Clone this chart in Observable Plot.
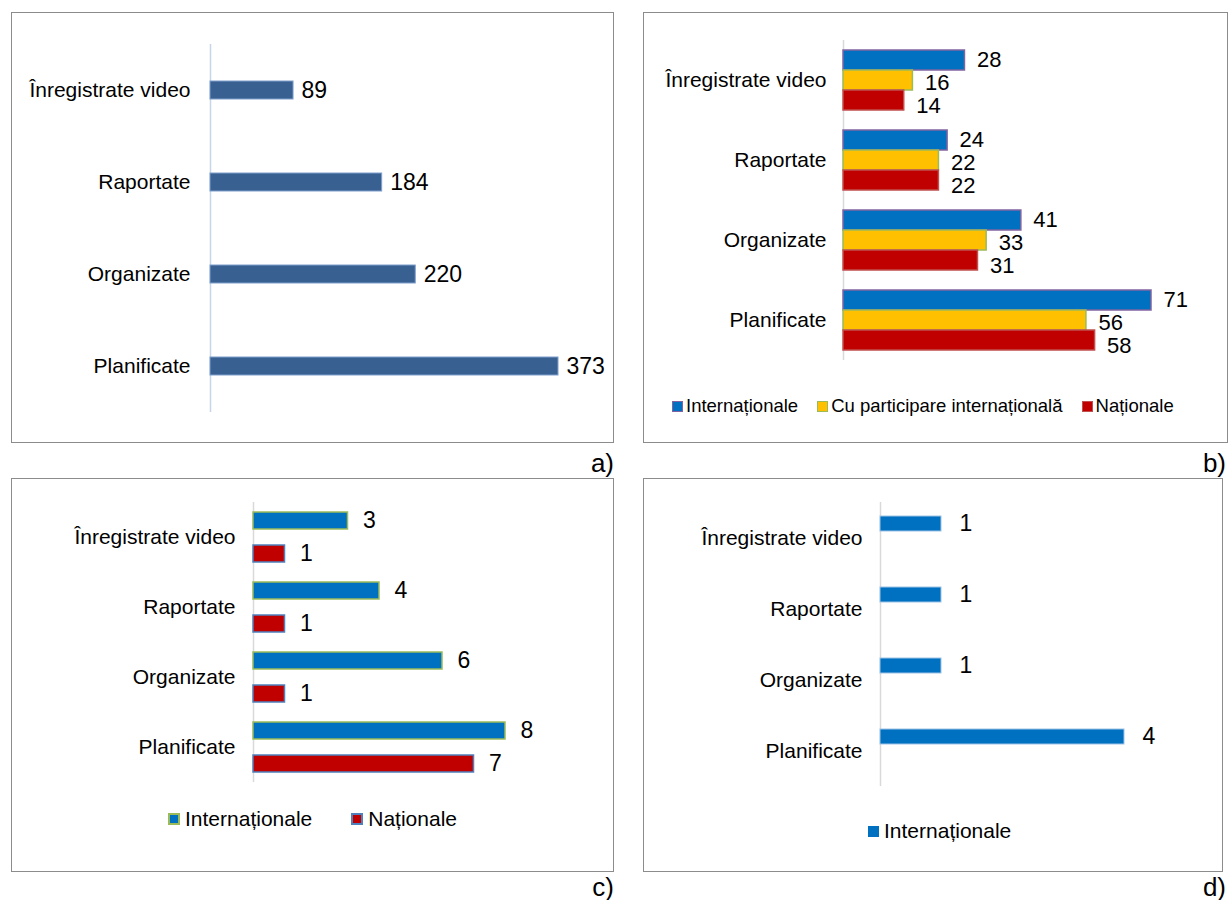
<!DOCTYPE html>
<html>
<head>
<meta charset="utf-8">
<script src="https://cdn.jsdelivr.net/npm/d3@7"></script>
<script src="https://cdn.jsdelivr.net/npm/@observablehq/plot@0.6"></script>
<style>
  html, body { margin: 0; padding: 0; background: #fff; }
  #root { position: relative; width: 1229px; height: 900px; font-family: "Liberation Sans", Arial, sans-serif; color: #000; }
  .box { position: absolute; box-sizing: border-box; border: 1.5px solid #8c8c8c; }
  .plot { position: absolute; }
  .plot svg { overflow: visible; }
  .tag { position: absolute; font-size: 26px; text-align: right; line-height: 1; }
  .legend { position: absolute; display: flex; align-items: center; white-space: nowrap; }
  .legend .item { display: flex; align-items: center; }
  .legend .sw { box-sizing: border-box; display: inline-block; }
</style>
</head>
<body>
<div id="root"></div>
<script>
// ---------- data ----------
const categories = ["Înregistrate video", "Raportate", "Organizate", "Planificate"];

// a) total
const seriesA = ["Total"];
const valuesA = [89, 184, 220, 373];

// b)
const seriesB = ["Internaționale", "Cu participare internațională", "Naționale"];
const valuesB_international = [28, 24, 41, 71];
const valuesB_participation = [16, 22, 33, 56];
const valuesB_national = [14, 22, 31, 58];

// c)
const seriesC = ["Internaționale", "Naționale"];
const valuesC_international = [3, 4, 6, 8];
const valuesC_national = [1, 1, 1, 7];

// d)
const seriesD = ["Internaționale"];
const valuesD_international = [1, 1, 1, 4];

const panelLabels = ["a)", "b)", "c)", "d)"];

// ---------- helpers ----------
const FONT = '"Liberation Sans", Arial, sans-serif';
const root = document.getElementById("root");

function toRows(series, valueLists) {
  const rows = [];
  categories.forEach((c, i) => {
    series.forEach((s, j) => rows.push({category: c, series: s, value: valueLists[j][i]}));
  });
  return rows;
}

function el(tag, cls, style, text) {
  const e = document.createElement(tag);
  if (cls) e.className = cls;
  Object.assign(e.style, style || {});
  if (text != null) e.textContent = text;
  return e;
}

function panel(cfg) {
  const {rows, series, yDomain, fills, strokes, strokeWidth, box, plot, yPad, labelGap, dx, dys, valueSize, ruleColor, tag, tagPos, legend} = cfg;
  root.appendChild(el("div", "box", {left: box.left + "px", top: box.top + "px", width: box.width + "px", height: box.height + "px"}));
  const xMax = d3.max(rows, d => d.value);
  const marks = [Plot.ruleX([0], {stroke: ruleColor, strokeWidth: 1.5})];
  series.forEach((s, i) => {
    marks.push(Plot.barX(rows, {
      filter: d => d.series === s,
      x: "value", y: "series",
      fill: fills[i], stroke: strokes[i], strokeWidth: strokeWidth
    }));
  });
  series.forEach((s, i) => {
    marks.push(Plot.text(rows, {
      filter: d => d.series === s,
      x: "value", y: "series", text: d => String(d.value),
      textAnchor: "start", dx: dx, dy: dys ? dys[i] : 0, fontSize: valueSize || 23, fill: "#000"
    }));
  });
  marks.push(Plot.text(rows, Plot.selectFirst({
    text: "category", frameAnchor: "left", textAnchor: "end",
    dx: -labelGap, fontSize: 21, fill: "#000"
  })));
  const svg = Plot.plot({
    width: plot.width, height: plot.height,
    marginLeft: plot.ml, marginRight: plot.mr, marginTop: plot.mt, marginBottom: plot.mb,
    style: {background: "transparent", fontFamily: FONT, overflow: "visible"},
    facet: {data: rows, y: "category"},
    fy: {domain: categories, padding: 0, axis: null, label: null},
    x: {domain: [0, xMax], axis: null},
    y: Object.assign({domain: yDomain, axis: null, label: null}, yPad),
    marks
  });
  const wrap = el("div", "plot", {left: plot.left + "px", top: plot.top + "px"});
  wrap.appendChild(svg);
  root.appendChild(wrap);

  // panel tag
  root.appendChild(el("div", "tag", {left: (tagPos.right - 60) + "px", width: "60px", top: tagPos.top + "px"}, tag));

  // legend
  if (legend) {
    const lg = el("div", "legend", {left: legend.left + "px", top: legend.top + "px", fontSize: legend.fontSize + "px", gap: legend.gap + "px"});
    legend.series.forEach((s, i) => {
      const it = el("div", "item", {gap: legend.swGap + "px"});
      const sw = el("span", "sw", {width: legend.sw + "px", height: legend.sw + "px", background: legend.fills[i], border: legend.border + "px solid " + legend.strokes[i]});
      it.appendChild(sw);
      it.appendChild(el("span", null, {}, s));
      lg.appendChild(it);
    });
    root.appendChild(lg);
  }
}

// ---------- panel a ----------
panel({
  rows: toRows(seriesA, [valuesA]),
  series: seriesA, yDomain: seriesA,
  fills: ["#386192"], strokes: ["#7f9fcc"], strokeWidth: 1,
  box: {left: 11, top: 12, width: 603, height: 431},
  plot: {left: 11, top: 12, width: 602, height: 430, ml: 199, mr: 55, mt: 30, mb: 29},
  yPad: {padding: 0.675},
  labelGap: 20, dx: 8, ruleColor: "#c6d6ea",
  tag: panelLabels[0], tagPos: {right: 614, top: 450}
});

// ---------- panel b ----------
const fillsB = ["#0070C0", "#FFC000", "#C00000"];
const strokesB = ["#8064A2", "#9BBB59", "#C0504D"];
panel({
  rows: toRows(seriesB, [valuesB_international, valuesB_participation, valuesB_national]),
  series: seriesB, yDomain: seriesB,
  fills: fillsB, strokes: strokesB, strokeWidth: 1.5,
  box: {left: 643, top: 12, width: 585, height: 431},
  plot: {left: 643, top: 12, width: 585, height: 430, ml: 200, mr: 77, mt: 28, mb: 82},
  yPad: {paddingInner: 0, paddingOuter: 0.5},
  labelGap: 17, dx: 12, dys: [-1, 2, 5], valueSize: 22, ruleColor: "#d9d9d9",
  tag: panelLabels[1], tagPos: {right: 1226, top: 450},
  legend: {series: seriesB, fills: fillsB, strokes: strokesB, left: 672, top: 395, fontSize: 18.5, gap: 19, swGap: 3, sw: 11, border: 1.5}
});

// ---------- panel c ----------
const fillsC = ["#0070C0", "#C00000"];
const strokesC = ["#9BBB59", "#4F81BD"];
panel({
  rows: toRows(seriesC, [valuesC_international, valuesC_national]),
  series: seriesC, yDomain: seriesC,
  fills: fillsC, strokes: strokesC, strokeWidth: 1.5,
  box: {left: 11, top: 478, width: 603, height: 394},
  plot: {left: 11, top: 478, width: 602, height: 394, ml: 242, mr: 108, mt: 24, mb: 90},
  yPad: {paddingInner: 0.5, paddingOuter: 0.28},
  labelGap: 18, dx: 15, ruleColor: "#d9d9d9",
  tag: panelLabels[2], tagPos: {right: 614, top: 874},
  legend: {series: seriesC, fills: fillsC, strokes: strokesC, left: 168, top: 807, fontSize: 21, gap: 39, swGap: 5, sw: 12, border: 2}
});

// ---------- panel d ----------
const fillsD = ["#0070C0"];
const strokesD = ["#9dc3e6"];
panel({
  rows: toRows(seriesD, [valuesD_international]),
  series: seriesD, yDomain: seriesC,
  fills: fillsD, strokes: strokesD, strokeWidth: 1,
  box: {left: 643, top: 478, width: 580, height: 394},
  plot: {left: 643, top: 478, width: 580, height: 394, ml: 237, mr: 99, mt: 24, mb: 86},
  yPad: {paddingInner: 0.48, paddingOuter: 0.47},
  labelGap: 18, dx: 18, ruleColor: "#d9d9d9",
  tag: panelLabels[3], tagPos: {right: 1226, top: 874},
  legend: {series: seriesD, fills: fillsD, strokes: ["#0070C0"], left: 868, top: 819, fontSize: 21, gap: 20, swGap: 5, sw: 11, border: 0}
});
</script>
</body>
</html>
